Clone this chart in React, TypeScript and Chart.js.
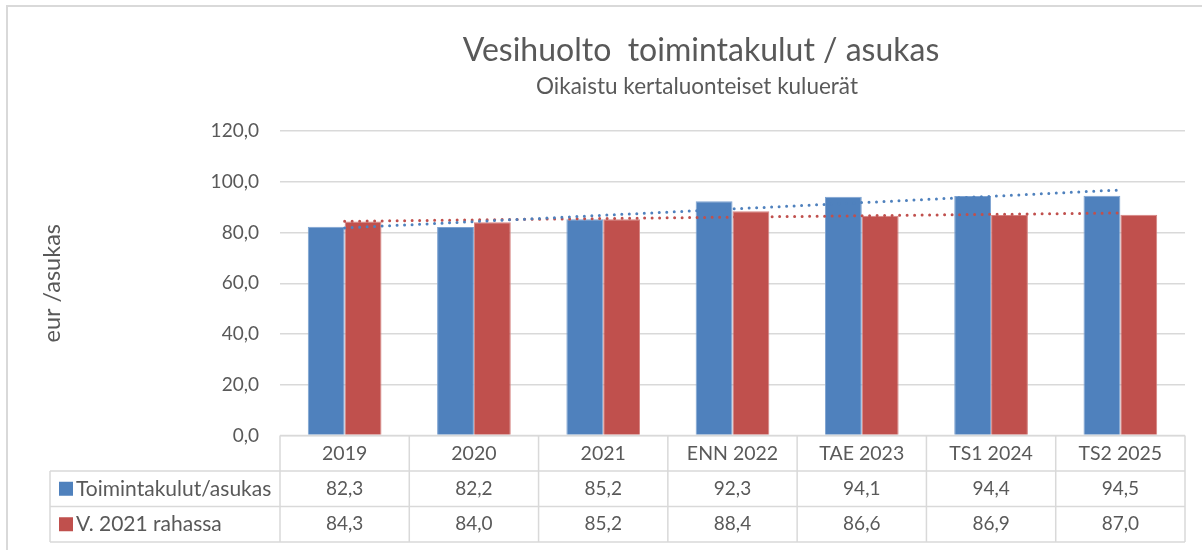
import React, { useEffect, useRef } from "react";
import { Chart, registerables } from "chart.js";

Chart.register(...registerables);

const categories = ["2019", "2020", "2021", "ENN 2022", "TAE 2023", "TS1 2024", "TS2 2025"];
const seriesNames = ["Toimintakulut/asukas", "V. 2021 rahassa"];
const costsPerResident = [82.3, 82.2, 85.2, 92.3, 94.1, 94.4, 94.5];
const costsIn2021Money = [84.3, 84.0, 85.2, 88.4, 86.6, 86.9, 87.0];
const yTickValues = [0, 20, 40, 60, 80, 100, 120];
const chartTitle = "Vesihuolto  toimintakulut / asukas";
const chartSubtitle = "Oikaistu kertaluonteiset kuluerät";
const yAxisTitle = "eur /asukas";

const BLUE = "#4F81BD";
const RED = "#C0504D";
const TEXT = "#595959";
const LINE = "#D9D9D9";
const FONT = "Lato";

const fmt = (v: number) => v.toFixed(1).replace(".", ",");

// Excel-style linear trendline (least squares) over category index
function linearTrend(values: number[]): number[] {
  const n = values.length;
  const mx = (n - 1) / 2;
  const my = values.reduce((a, b) => a + b, 0) / n;
  let sxy = 0;
  let sxx = 0;
  values.forEach((v, i) => {
    sxy += (i - mx) * (v - my);
    sxx += (i - mx) * (i - mx);
  });
  const slope = sxy / sxx;
  return values.map((_, i) => my + slope * (i - mx));
}

const seriesValues = [costsPerResident, costsIn2021Money];
const seriesColors = [BLUE, RED];

const framePlugin = {
  id: "frame",
  beforeDraw(chart: any) {
    const { ctx } = chart;
    ctx.save();
    ctx.fillStyle = "#FFFFFF";
    ctx.fillRect(0, 0, chart.width, chart.height);
    ctx.strokeStyle = LINE;
    ctx.lineWidth = 2;
    ctx.strokeRect(7, 6, chart.width + 10, chart.height + 10);
    ctx.restore();
  },
};

const titlePlugin = {
  id: "customTitle",
  afterDraw(chart: any) {
    const { ctx } = chart;
    ctx.save();
    ctx.fillStyle = TEXT;
    ctx.textAlign = "center";
    ctx.textBaseline = "alphabetic";
    ctx.font = `32px ${FONT}`;
    ctx.fillText(chartTitle, 701, 61);
    ctx.font = `22.5px ${FONT}`;
    ctx.fillText(chartSubtitle, 697, 94);
    ctx.restore();
  },
};

const tablePlugin = {
  id: "dataTable",
  afterDraw(chart: any) {
    const { ctx, chartArea } = chart;
    const x = chart.scales.x;
    const n = categories.length;
    const half = (x.getPixelForValue(1) - x.getPixelForValue(0)) / 2;
    const left = x.getPixelForValue(0) - half;
    const right = x.getPixelForValue(n - 1) + half;
    const top = chartArea.bottom;
    const rowH = 35.5;
    const legendLeft = 50;
    const bottom = top + rowH * 3;

    ctx.save();
    ctx.strokeStyle = LINE;
    ctx.lineWidth = 1.5;
    ctx.beginPath();
    ctx.moveTo(left, top);
    ctx.lineTo(right, top);
    for (let r = 1; r <= 3; r++) {
      ctx.moveTo(legendLeft, top + rowH * r);
      ctx.lineTo(right, top + rowH * r);
    }
    ctx.moveTo(legendLeft, top + rowH);
    ctx.lineTo(legendLeft, bottom);
    for (let i = 0; i <= n; i++) {
      const px = left + half * 2 * i;
      ctx.moveTo(px, top);
      ctx.lineTo(px, bottom);
    }
    ctx.stroke();

    ctx.textBaseline = "middle";
    seriesValues.forEach((vals, s) => {
      const cy = top + rowH * (s + 1) + rowH / 2;
      ctx.fillStyle = seriesColors[s];
      ctx.fillRect(59, cy - 7, 14, 14);
      ctx.fillStyle = TEXT;
      ctx.textAlign = "left";
      ctx.font = `21px ${FONT}`;
      ctx.fillText(seriesNames[s], 76, cy);
      ctx.textAlign = "center";
      ctx.font = `19px ${FONT}`;
      vals.forEach((v, i) => {
        ctx.fillText(fmt(v), x.getPixelForValue(i), cy);
      });
    });
    ctx.restore();
  },
};

export default function App() {
  const canvasRef = useRef<HTMLCanvasElement | null>(null);

  useEffect(() => {
    if (!canvasRef.current) return;
    const chart = new Chart(canvasRef.current, {
      type: "bar",
      data: {
        labels: categories,
        datasets: [
          {
            type: "line",
            label: "trend " + seriesNames[0],
            data: linearTrend(costsPerResident),
            borderColor: BLUE,
            borderWidth: 3,
            borderDash: [0, 7.5],
            borderCapStyle: "round",
            pointRadius: 0,
            fill: false,
            order: 0,
          } as any,
          {
            type: "line",
            label: "trend " + seriesNames[1],
            data: linearTrend(costsIn2021Money),
            borderColor: RED,
            borderWidth: 3,
            borderDash: [0, 7.5],
            borderCapStyle: "round",
            pointRadius: 0,
            fill: false,
            order: 0,
          } as any,
          {
            label: seriesNames[0],
            data: costsPerResident,
            backgroundColor: BLUE,
            borderColor: "#7EA3D1",
            borderWidth: 1,
            categoryPercentage: 0.57,
            barPercentage: 1.0,
            order: 1,
          },
          {
            label: seriesNames[1],
            data: costsIn2021Money,
            backgroundColor: RED,
            borderColor: "#D68381",
            borderWidth: 1,
            categoryPercentage: 0.57,
            barPercentage: 1.0,
            order: 1,
          },
        ],
      },
      options: {
        animation: false,
        responsive: false,
        maintainAspectRatio: false,
        layout: { padding: { top: 131, left: 0, right: 17, bottom: 79.5 } },
        plugins: {
          legend: { display: false },
          title: { display: false },
          tooltip: { enabled: false },
        },
        scales: {
          x: {
            grid: { display: false, drawTicks: false },
            border: { display: false },
            ticks: {
              color: TEXT,
              font: { family: FONT, size: 19.5 },
              padding: 6.4,
              maxRotation: 0,
              autoSkip: false,
            },
            afterFit: (s: any) => {
              s.height = 35;
            },
          },
          y: {
            min: 0,
            max: 120,
            afterBuildTicks: (s: any) => {
              s.ticks = yTickValues.map((v) => ({ value: v }));
            },
            grid: { color: LINE, lineWidth: 1.5, drawTicks: false },
            border: { display: false },
            ticks: {
              color: TEXT,
              font: { family: FONT, size: 19 },
              padding: 21,
              callback: (v: any) => fmt(Number(v)),
            },
            title: {
              display: true,
              text: yAxisTitle,
              color: TEXT,
              font: { family: FONT, size: 23.5 },
              padding: { top: 38, bottom: 0 },
            },
            afterFit: (s: any) => {
              s.width = 280;
            },
          },
        },
      },
      plugins: [framePlugin, titlePlugin, tablePlugin],
    });
    return () => chart.destroy();
  }, []);

  return (
    <div style={{ position: "fixed", left: 0, top: 0, width: 1202, height: 550, background: "#fff" }}>
      <canvas ref={canvasRef} width={1202} height={550} />
    </div>
  );
}
